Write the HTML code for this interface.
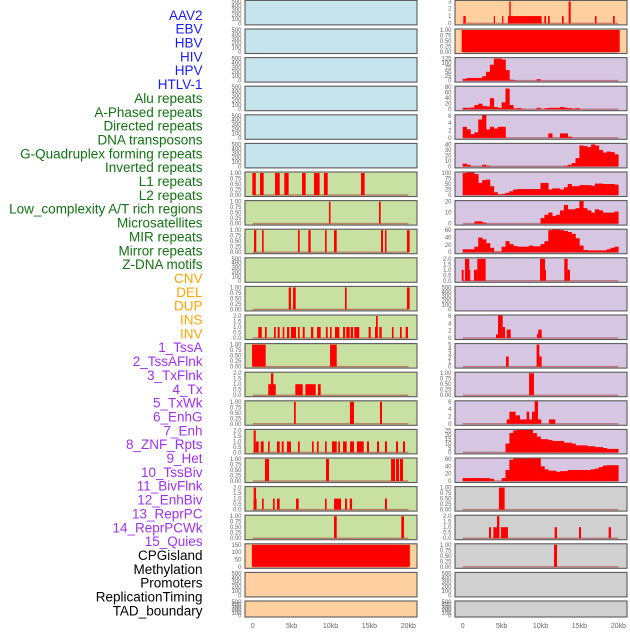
<!DOCTYPE html>
<html><head><meta charset="utf-8">
<style>
html,body{margin:0;padding:0;background:#fff;}
body{width:630px;height:630px;overflow:hidden;font-family:"Liberation Sans",sans-serif;}
</style></head>
<body>
<svg id="chart" width="630" height="630" viewBox="0 0 630 630" xmlns="http://www.w3.org/2000/svg"></svg>
<script>
// ---------- data ----------
const trackLabels = ["AAV2","EBV","HBV","HIV","HPV","HTLV-1","Alu repeats","A-Phased repeats","Directed repeats","DNA transposons","G-Quadruplex forming repeats","Inverted repeats","L1 repeats","L2 repeats","Low_complexity A/T rich regions","Microsatellites","MIR repeats","Mirror repeats","Z-DNA motifs","CNV","DEL","DUP","INS","INV","1_TssA","2_TssAFlnk","3_TxFlnk","4_Tx","5_TxWk","6_EnhG","7_Enh","8_ZNF_Rpts","9_Het","10_TssBiv","11_BivFlnk","12_EnhBiv","13_ReprPC","14_ReprPCWk","15_Quies","CPGisland","Methylation","Promoters","ReplicationTiming","TAD_boundary"];
const xTickKb = [0,5,10,15,20];
const xTickLabels = ["0","5kb","10kb","15kb","20kb"];
const binKb = 0.5;

// segment tracks: [startKb, endKb, value]
const aluSegs = [[-0.05,0.4,1],[0.94,1.41,1],[2.87,3.47,1],[4.06,4.62,1],[6.34,6.81,1],[7.88,8.6,1],[9.16,9.64,1],[13.92,14.39,1]];
const aPhasedSegs = [[9.8,10.0,1],[16.23,16.45,1]];
const directedSegs = [[0.17,0.46,1],[1.2,1.41,1],[5.82,6.04,1],[7.15,7.45,1],[9.3,9.51,1],[10.45,10.8,1],[16.49,16.75,1],[17.0,17.2,1],[19.83,20.17,1]];
const gquadSegs = [[4.63,4.92,1],[5.18,5.53,1],[11.86,12.08,1],[19.83,20.17,1]];
const invertedSegs = [[0.72,1.16,1],[1.58,1.8,1],[2.74,2.96,1],[3.21,3.47,1],[3.86,4.06,1],[4.41,4.71,1],[4.92,5.57,1],[5.82,6.04,1],[6.43,6.68,1],[7.49,7.79,1],[8.26,8.74,1],[9.41,9.64,1],[9.94,10.15,1],[10.58,11.14,1],[11.61,11.87,1],[12.03,12.47,1],[12.6,12.9,1],[13.06,13.7,1],[14.9,15.17,1],[15.72,16.07,1],[15.85,16.07,2],[16.28,16.58,1],[17.9,18.1,1],[18.93,19.15,1],[19.66,19.96,1]];
const l1Segs = [[-0.09,1.67,1],[9.94,10.8,1]];
const l2Segs = [[2.0,2.96,1],[2.35,2.65,2],[5.48,6.43,1],[6.77,8.1,1],[8.39,8.74,1]];
const lowSegs = [[5.31,5.53,1],[12.5,13.02,1],[16.36,16.62,1]];
const microSegs = [[0.12,0.39,2],[0.39,0.77,1],[1.03,1.41,1],[1.97,2.18,1],[3.12,3.47,1],[3.73,3.98,1],[4.41,4.92,1],[5.82,6.04,1],[7.62,7.84,1],[8.26,8.48,1],[9.3,9.51,1],[10.19,10.8,1],[11.0,11.22,1],[11.61,12.08,1],[12.5,13.02,1],[13.4,14.27,1],[14.69,14.95,1],[15.98,16.24,1],[17.0,17.26,1],[18.42,18.68,1],[19.32,19.58,1]];
const mirSegs = [[1.58,2.1,1],[9.42,9.81,1],[17.78,18.3,1],[18.42,18.8,1],[18.93,19.32,1]];
const mirrorSegs = [[0.12,0.43,2],[0.12,0.5,1],[1.2,1.41,1],[2.6,2.83,1],[3.12,3.47,1],[5.57,5.91,1],[9.3,9.51,1],[10.45,11.35,1],[11.87,12.12,1],[12.47,12.77,1],[17.0,17.26,1]];
const zdnaSegs = [[10.45,10.8,1],[19.1,19.45,1]];
const cnvSegs = [[-0.1,20.2,150]];
const insSegs = [[0.08,0.39,1],[4.0,4.15,1],[5.05,5.22,1],[5.82,10.15,1],[5.99,6.17,3],[10.49,10.71,1],[10.96,11.18,1],[12.76,12.98,1],[13.62,13.88,3],[17.0,17.2,1],[19.32,19.54,1]];
const invSegs = [[-0.13,20.18,1]];
const znfSegs = [[-0.13,0.12,1],[0.29,0.85,2],[0.85,0.95,1],[1.45,1.88,1],[1.88,2.95,2],[9.94,10.58,2],[10.58,10.65,1],[13.06,13.49,2],[13.49,13.79,1]];
const tssBivSegs = [[4.28,4.58,1],[4.54,5.14,7],[5.14,5.44,3],[5.65,6.17,2.3],[9.55,9.72,1.2],[9.72,10.15,2.3]];
const bivFlnkSegs = [[5.57,5.91,2.3],[9.5,9.85,5],[9.85,10.15,2.3]];
const enhBivSegs = [[8.53,9.16,1]];
const reprPCSegs = [[5.65,6.0,1.2],[6.0,6.8,3.3],[6.8,7.37,2.3],[7.37,8.22,1.2],[8.22,8.55,3.3],[8.55,8.9,1.2],[8.9,9.25,3.3],[9.25,9.68,6.2],[9.68,10.1,1.2],[11.1,11.9,1.2]];
const cpgSegs = [[4.66,5.39,1]];
const methSegs = [[3.38,3.64,1],[3.94,4.71,1],[4.41,4.71,2],[4.92,5.82,1],[11.82,12.12,1],[14.95,15.21,1],[18.76,19.06,1]];
const promoterSegs = [[11.74,12.12,1]];

// binned profile tracks (0.5kb bins from 0 to 20kb)
const tssAVals = [10,15,15,15,15,25,50,90,125,125,120,60,5,2,0,0,0,0,0,8,0,0,0,0,0,0,0,0,0,0,0,0,0,0,0,0,0,0,0,0];
const tssAFlnkVals = [5,5,6,15,20,12,10,40,8,5,25,75,15,3,4,1,0,0,0,5,0,4,5,5,5,8,5,4,2,4,0,0,0,0,0,0,0,0,0,0];
const txFlnkVals = [3,2.3,1,1.5,5,6.5,2.3,3,2.5,3,3,0,0,0,0,0,0,0,0,0,0,0,1.2,0,0,1.2,1.2,0.3,0,0,0,0,0,0,0,0,0,0,0,0];
const txVals = [5,3,0,0,0,3,1,0,0,0,0,0,0,0,0,0,0,0,0,0,0,0,0,0,0,0,1,3,6,15,38,37,35,40,38,30,25,27,26,22];
const txWkVals = [100,105,105,95,55,68,70,40,12,3,5,10,17,25,27,27,27,27,27,27,55,55,25,30,30,25,35,50,40,40,45,45,45,42,52,52,50,50,50,47];
const enhGVals = [0,0,0,2,2,1,0,0,0,0,0,0,0,0,0,0,0,0,0,0,5,8,10,7,8,12,17,13,13,14,25,14,12,10,13,12,10,10,10,11];
const enhVals = [8,8,8,15,40,35,25,12,2,2,15,30,22,17,15,15,15,18,16,16,22,30,60,70,65,60,58,55,50,38,18,6,5,5,5,5,5,8,12,15];
const reprPCWkVals = [0,0,0,0,0,0,0,0,0,0,0,10,22,25,26,26,26,26,22,18,15,15,14,13,13,13,11,11,10,8,8,8,7,7,6,6,5,4,4,4];
const quiesVals = [8,8,8,8,8,8,8,6,0,0,8,30,58,62,62,62,62,62,62,62,40,32,28,28,25,27,27,30,30,30,30,30,30,32,34,38,42,43,43,43];

// tick label arrays
const ticks500 = ["0","100","200","300","400","500"];
const ticks1 = ["0.00","0.25","0.50","0.75","1.00"];
const ticks2 = ["0.0","0.5","1.0","1.5","2.0"];
const ticks3 = ["0","1","2","3"];
const ticks150 = ["0","50","100","150"];
const ticks125 = ["0","25","50","75","100","125"];
const ticks80 = ["0","20","40","60","80"];
const ticks6 = ["0","2","4","6"];
const ticks40 = ["0","10","20","30","40"];
const ticks100 = ["0","25","50","75","100"];
const ticks20 = ["0","10","20"];
const ticks60 = ["0","20","40","60"];
const ticks5 = ["0","1","2","3","4","5"];
const ticks25 = ["0","5","10","15","20","25"];

// ---------- layout ----------
const BLUE="#c6e4ec", GREEN="#c8e0a2", ORANGE="#ffd09f", PURPLE="#d6c6e2", GRAY="#d0d0d0";
const labelColors = i => i<6?"#1a1aff":(i<19?"#127212":(i<24?"#ffa500":(i<39?"#a030f0":"#000")));
const tracks = [
 // left column
 [0,0,BLUE,ticks500,null,null],[0,1,BLUE,ticks500,null,null],[0,2,BLUE,ticks500,null,null],
 [0,3,BLUE,ticks500,null,null],[0,4,BLUE,ticks500,null,null],[0,5,BLUE,ticks500,null,null],
 [0,6,GREEN,ticks1,aluSegs,null],[0,7,GREEN,ticks1,aPhasedSegs,null],[0,8,GREEN,ticks1,directedSegs,null],
 [0,9,GREEN,ticks500,null,null],[0,10,GREEN,ticks1,gquadSegs,null],[0,11,GREEN,ticks2,invertedSegs,null],
 [0,12,GREEN,ticks1,l1Segs,null],[0,13,GREEN,ticks2,l2Segs,null],[0,14,GREEN,ticks1,lowSegs,null],
 [0,15,GREEN,ticks2,microSegs,null],[0,16,GREEN,ticks1,mirSegs,null],[0,17,GREEN,ticks2,mirrorSegs,null],
 [0,18,GREEN,ticks1,zdnaSegs,null],[0,19,ORANGE,ticks150,cnvSegs,null],[0,20,ORANGE,ticks500,null,null],
 [0,21,ORANGE,ticks500,null,null],
 // right column
 [1,0,ORANGE,ticks3,insSegs,null],[1,1,ORANGE,ticks1,invSegs,null],
 [1,2,PURPLE,ticks125,null,tssAVals],[1,3,PURPLE,ticks80,null,tssAFlnkVals],[1,4,PURPLE,ticks6,null,txFlnkVals],
 [1,5,PURPLE,ticks40,null,txVals],[1,6,PURPLE,ticks100,null,txWkVals],[1,7,PURPLE,ticks20,null,enhGVals],
 [1,8,PURPLE,ticks60,null,enhVals],[1,9,PURPLE,ticks2,znfSegs,null],[1,10,PURPLE,ticks500,null,null],
 [1,11,PURPLE,ticks6,tssBivSegs,null],[1,12,PURPLE,ticks5,bivFlnkSegs,null],[1,13,PURPLE,ticks1,enhBivSegs,null],
 [1,14,PURPLE,ticks6,reprPCSegs,null],[1,15,PURPLE,ticks25,null,reprPCWkVals],[1,16,PURPLE,ticks60,null,quiesVals],
 [1,17,GRAY,ticks1,cpgSegs,null],[1,18,GRAY,ticks2,methSegs,null],[1,19,GRAY,ticks1,promoterSegs,null],
 [1,20,GRAY,ticks500,null,null],[1,21,GRAY,ticks500,null,null]
];

const NS="http://www.w3.org/2000/svg";
const svg=document.getElementById("chart");
function mk(tag,attrs,parent){const e=document.createElementNS(NS,tag);for(const k in attrs)e.setAttribute(k,attrs[k]);(parent||svg).appendChild(e);return e;}

const PXKB=7.78;
const colBoxX=[245,455], colBoxW=172, colX0=[252.7,462.7];
function rowTop(r){return 0.4+28.6*r;}
function rowH(r){return r===21?16:24.5;}

// labels
trackLabels.forEach((t,i)=>{
  const e=mk("text",{x:202.5,y:15+i*13.85+4.8,"text-anchor":"end","font-size":"13.5",fill:labelColors(i),"font-family":"Liberation Sans, sans-serif"});
  
  
  e.textContent=t;
});

tracks.forEach(tr=>{
  const [col,row,bg,ticks,segs,vals]=tr;
  const top=rowTop(row), h=rowH(row), bx=colBoxX[col], bottom=top+h;
  const ymax=parseFloat(ticks[ticks.length-1]);
  const yS=v=>bottom-1.5-(v/ymax)*(h-2.5);
  const xS=kb=>colX0[col]+kb*PXKB;
  const g=mk("g",{});
  
  
  const bgR=mk("rect",{x:bx,y:top,width:colBoxW,height:h,fill:bg},g);
  
  
  const clipId="c"+col+"_"+row;
  const cp=mk("clipPath",{id:clipId},g);
  mk("rect",{x:bx,y:top,width:colBoxW,height:h},cp);
  const dg=mk("g",{"clip-path":"url(#"+clipId+")"},g);
  if(segs||vals){
    const bl=mk("line",{x1:xS(0),x2:xS(20),y1:yS(0),y2:yS(0),stroke:"rgba(170,60,60,0.55)","stroke-width":1.5},dg);
    
    
  }
  if(segs){
    segs.forEach(s=>{
      const x0=xS(s[0]),x1=xS(s[1]),y=yS(s[2]);
      const r=mk("rect",{x:x0,y:y,width:Math.max(1,x1-x0),height:yS(0)-y,fill:"#ff0000"},dg);
      
      
    });
  }
  if(vals){
    vals.forEach((v,k)=>{
      if(v<=0)return;
      const x0=xS(k*binKb),x1=xS((k+1)*binKb),y=yS(v);
      const r=mk("rect",{x:x0,y:y,width:x1-x0+0.3,height:yS(0)-y,fill:"#ff0000"},dg);
      
      
    });
  }
  const br=mk("rect",{x:bx,y:top,width:colBoxW,height:h,fill:"none",stroke:"#5a5a5a","stroke-width":1.1},g);
  
  
  ticks.forEach(t=>{
    const v=parseFloat(t);
    const tx=mk("text",{x:bx-3.5,y:yS(v)+2,"text-anchor":"end","font-size":"6",fill:"#666","font-family":"Liberation Sans, sans-serif"},g);
    
    
    tx.textContent=t;
  });
});

// x axes
[0,1].forEach(col=>{
  xTickKb.forEach((kb,i)=>{
    const tx=mk("text",{x:colX0[col]+kb*PXKB,y:628,"text-anchor":"middle","font-size":"7",fill:"#666","font-family":"Liberation Sans, sans-serif"});
    
    
    tx.textContent=xTickLabels[i];
  });
});
</script>
</body></html>
